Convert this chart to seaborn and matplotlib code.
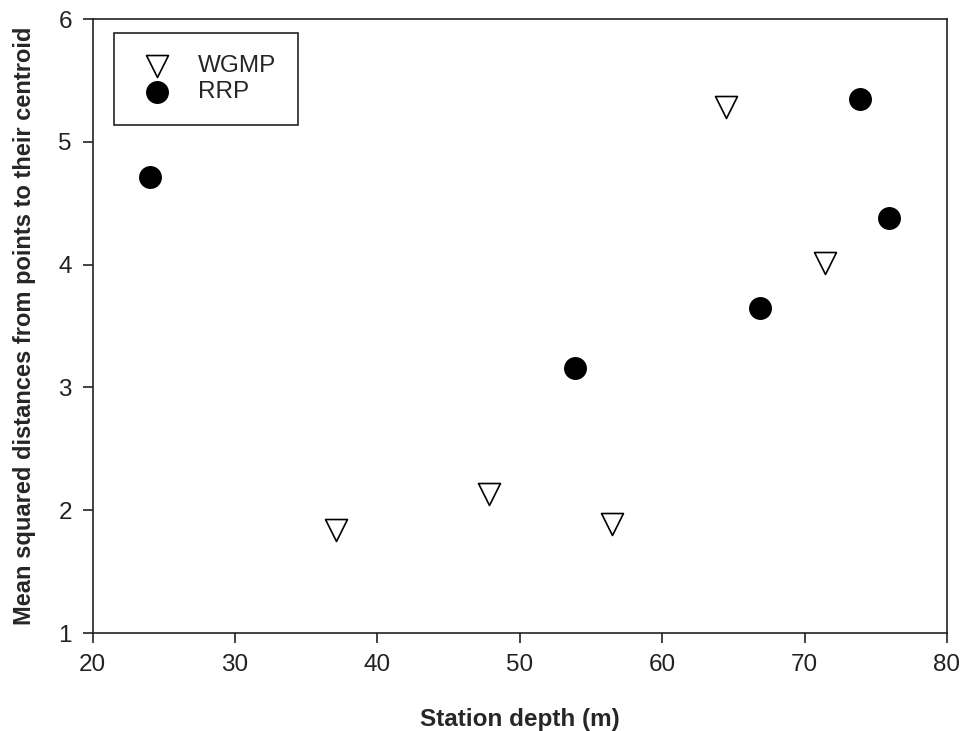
import matplotlib
matplotlib.use("Agg")
import matplotlib.pyplot as plt
import seaborn as sns
import pandas as pd

wgmp_depth = [37.1, 47.8, 56.5, 64.5, 71.4]
wgmp_msd = [1.84, 2.13, 1.89, 5.28, 4.01]
rrp_depth = [24.0, 53.9, 66.9, 73.9, 75.9]
rrp_msd = [4.71, 3.16, 3.65, 5.35, 4.38]
x_ticks = [20, 30, 40, 50, 60, 70, 80]
y_ticks = [1, 2, 3, 4, 5, 6]

sns.set_theme(style="ticks")
plt.rcParams['font.family'] = ['Liberation Sans', 'DejaVu Sans']

fig = plt.figure(figsize=(9.62, 7.31), dpi=100)
ax = fig.add_axes([0.0964, 0.134, 0.888, 0.840])

df_w = pd.DataFrame({"depth": wgmp_depth, "msd": wgmp_msd})
df_r = pd.DataFrame({"depth": rrp_depth, "msd": rrp_msd})

sns.scatterplot(data=df_w, x="depth", y="msd", marker="v", s=250,
                facecolor="white", edgecolor="black", linewidth=1.2,
                label="WGMP", ax=ax, zorder=3)
sns.scatterplot(data=df_r, x="depth", y="msd", marker="o", s=240,
                color="black", edgecolor="black", linewidth=1,
                label="RRP", ax=ax, zorder=3)

ax.set_xlim(20, 80)
ax.set_ylim(1, 6)
ax.set_xticks(x_ticks)
ax.set_yticks(y_ticks)
ax.tick_params(axis='both', direction='out', length=7, width=1.2,
               labelsize=17.5, colors='#222222', pad=8)
for sp in ax.spines.values():
    sp.set_visible(True)
    sp.set_linewidth(1.2)
    sp.set_color('#222222')

ax.set_xlabel("Station depth (m)", fontsize=17.5, fontweight='bold', labelpad=23)
ax.set_ylabel("Mean squared distances from points to their centroid",
              fontsize=17, fontweight='bold', labelpad=16)

leg = ax.legend(loc='upper left', bbox_to_anchor=(0.025, 0.977),
                borderaxespad=0, fontsize=17.5, frameon=True, fancybox=False,
                edgecolor='#222222', borderpad=0.9, handletextpad=0.85,
                labelspacing=0.18, handlelength=1.7)
leg.get_frame().set_linewidth(1.2)
leg.get_frame().set_alpha(1)

fig.savefig("out.png", dpi=100, facecolor="white")
